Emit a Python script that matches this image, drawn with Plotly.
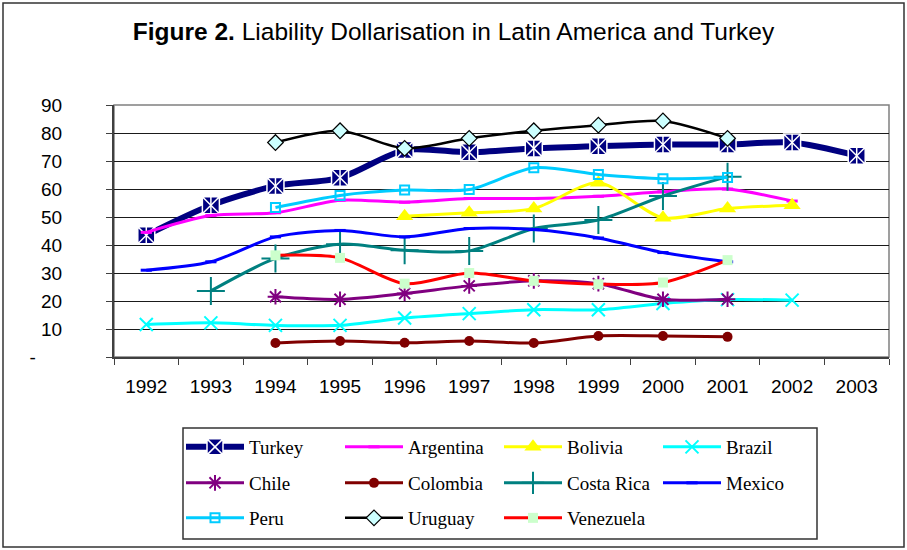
import plotly.graph_objects as go

# ---------------- data ----------------
years = ['1992', '1993', '1994', '1995', '1996', '1997', '1998', '1999', '2000', '2001', '2002', '2003']
turkey = [43.5, 54.2, 61.1, 64.0, 73.9, 73.1, 74.5, 75.3, 75.9, 75.9, 76.6, 71.9]
argentina = [44.5, 50.5, 51.5, 56.0, 55.3, 56.6, 56.6, 57.4, 59.0, 60.0, 55.7, None]
bolivia = [None, None, None, None, 50.3, 51.5, 53.0, 62.2, 49.7, 53.0, 54.2, None]
brazil = [11.6, 12.2, 11.3, 11.3, 13.9, 15.5, 16.9, 16.9, 19.1, 20.5, 20.3, None]
chile = [None, None, 21.5, 20.6, 22.7, 25.4, 27.2, 26.2, 20.6, 20.6, None, None]
colombia = [None, None, 5.0, 5.7, 5.1, 5.7, 5.0, 7.5, 7.5, 7.2, None, None]
costa_rica = [None, 23.6, 35.2, 40.3, 38.1, 37.9, 45.9, 48.9, 57.5, 64.4, None, None]
mexico = [31.0, 34.0, 42.9, 45.2, 42.9, 45.9, 45.5, 42.5, 37.3, 34.0, None, None]
peru = [None, None, 53.4, 57.7, 59.6, 59.8, 67.6, 65.2, 63.7, 64.1, None, None]
uruguay = [None, None, 76.6, 80.8, 74.5, 78.1, 80.8, 82.8, 84.3, 78.1, None, None]
venezuela = [None, None, 36.3, 35.4, 26.2, 30.0, 27.2, 26.0, 26.6, 34.6, None, None]

y_tickvals = [0, 10, 20, 30, 40, 50, 60, 70, 80, 90]
y_ticktext = ['-\u00a0\u00a0\u00a0\u00a0\u00a0', '10', '20', '30', '40', '50', '60', '70', '80', '90']

# ---------------- layout geometry ----------------
W, H = 907, 550
L, R, T, B = 114, 18, 105, 193
PW = W - L - R
PH = H - T - B


def px(x):
    return (x - L) / PW


def py(y):
    return (H - B - y) / PH


series = [
    ('Turkey', turkey, '#000080', 6, dict(symbol='square-x', size=17, color='#000080', line=dict(color='white', width=1.5)), 'legend'),
    ('Argentina', argentina, '#FF00FF', 3, dict(symbol='line-ew-open', size=8, color='#FF00FF', line=dict(color='#FF00FF', width=3)), 'legend'),
    ('Bolivia', bolivia, '#FFFF00', 3, dict(symbol='triangle-up', size=15, color='#FFFF00', line=dict(width=0)), 'legend'),
    ('Brazil', brazil, '#00FFFF', 3, dict(symbol='x-thin-open', size=13, color='#00FFFF', line=dict(color='#00FFFF', width=2)), 'legend'),
    ('Chile', chile, '#800080', 3, dict(symbol='asterisk-open', size=13, color='#800080', line=dict(color='#800080', width=2)), 'legend2'),
    ('Colombia', colombia, '#800000', 3, dict(symbol='circle', size=10, color='#800000', line=dict(width=0)), 'legend2'),
    ('Costa Rica', costa_rica, '#008080', 3, dict(symbol='cross-thin-open', size=20, color='#008080', line=dict(color='#008080', width=2)), 'legend2'),
    ('Mexico', mexico, '#0000FF', 3, dict(symbol='line-ew-open', size=8, color='#0000FF', line=dict(color='#0000FF', width=3)), 'legend2'),
    ('Peru', peru, '#00CCFF', 3, dict(symbol='square-open', size=9, color='#00CCFF', line=dict(color='#00CCFF', width=2)), 'legend3'),
    ('Uruguay', uruguay, '#000000', 2.5, dict(symbol='diamond', size=12, color='#CCFFFF', line=dict(color='#000000', width=1.2)), 'legend3'),
    ('Venezuela', venezuela, '#FF0000', 3, dict(symbol='square', size=10, color='#CCFFCC', line=dict(width=0)), 'legend3'),
]

fig = go.Figure()
for name, vals, color, lw, marker, leg in series:
    fig.add_trace(go.Scatter(
        x=years, y=vals, name=name, mode='lines+markers',
        line=dict(color=color, width=lw, shape='spline', smoothing=0.8),
        marker=marker, legend=leg, connectgaps=False, cliponaxis=False,
    ))
    if name == 'Turkey':
        # vertical stroke completing the white asterisk inside the Turkey squares
        fig.add_trace(go.Scatter(
            x=years, y=vals, mode='markers', showlegend=False, hoverinfo='skip',
            marker=dict(symbol='line-ns-open', size=12, color='white', line=dict(color='white', width=1.5)),
            cliponaxis=False,
        ))

legend_font = dict(family='Liberation Serif', size=19, color='black')
common_leg = dict(orientation='h', xanchor='left', yanchor='middle', x=px(181),
                  font=legend_font, bgcolor='rgba(0,0,0,0)', borderwidth=0,
                  itemwidth=58, entrywidth=86, traceorder='normal')

fig.update_layout(
    width=W, height=H,
    margin=dict(l=L, r=R, t=T, b=B, autoexpand=False),
    paper_bgcolor='white', plot_bgcolor='white',
    title=dict(text='<b>Figure 2.</b> Liability Dollarisation in Latin America and Turkey',
               font=dict(family='Liberation Sans', size=24.5, color='black'),
               x=0.5, xref='container', xanchor='center', y=1 - 31 / H, yanchor='middle'),
    showlegend=True,
    legend=dict(common_leg, y=py(447)),
    legend2=dict(common_leg, y=py(483)),
    legend3=dict(common_leg, y=py(518)),
    xaxis=dict(type='category', range=[-0.5, 11.5], showgrid=False, tickson='boundaries',
               ticks='outside', ticklen=6, tickcolor='#404040', tickwidth=1,
               showline=True, linecolor='#404040', linewidth=2,
               tickfont=dict(family='Liberation Sans', size=19, color='black'),
               ticklabelstandoff=11, fixedrange=True),
    yaxis=dict(range=[0, 90], tickvals=y_tickvals, ticktext=y_ticktext,
               showgrid=True, gridcolor='#1a1a1a', gridwidth=1,
               ticks='outside', ticklen=6, tickcolor='#404040', tickwidth=1,
               showline=True, linecolor='#404040', linewidth=2, zeroline=False,
               tickfont=dict(family='Liberation Sans', size=19, color='black'),
               ticklabelstandoff=40, fixedrange=True),
    shapes=[
        # plot area border
        dict(type='rect', xref='paper', yref='paper', x0=0, x1=1, y0=0, y1=1,
             line=dict(color='#808080', width=1.5), layer='below'),
        # legend box
        dict(type='rect', xref='paper', yref='paper', x0=px(183), x1=px(817), y0=py(539), y1=py(428),
             line=dict(color='#333333', width=1.5)),
        # outer chart border
        dict(type='rect', xref='paper', yref='paper', x0=px(3), x1=px(904), y0=py(547), y1=py(3),
             line=dict(color='#333333', width=1.5)),
    ],
)

fig.write_html('out.html', config={'displayModeBar': False},
               post_script="document.body.style.margin='0px';document.body.style.overflow='hidden';")
